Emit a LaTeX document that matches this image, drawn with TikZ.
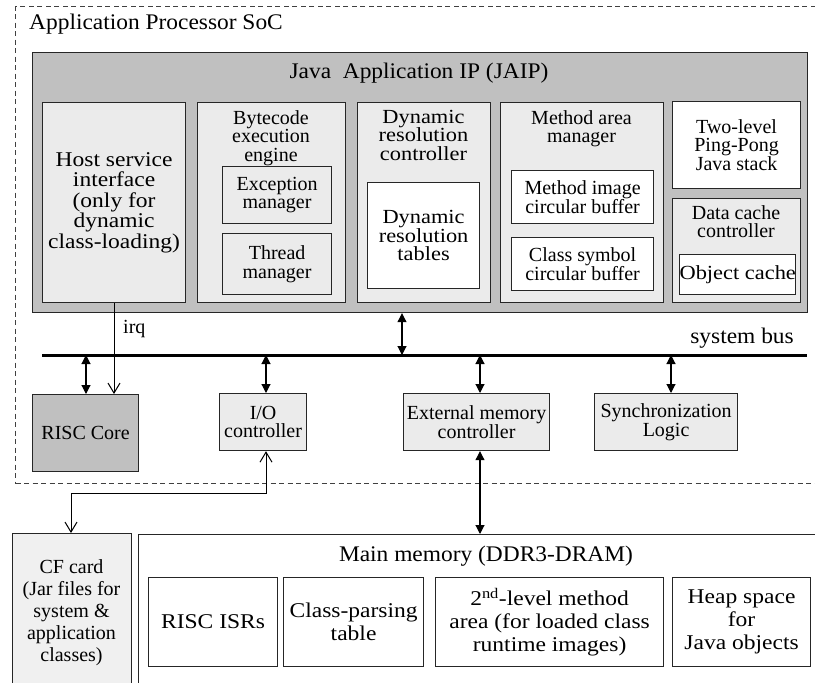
\documentclass[tikz,border=0pt]{standalone}
\usepackage{fontspec}
\setmainfont{Liberation Serif}
\newfontfamily\nf{Liberation Serif}
\newfontfamily\wf{Liberation Serif}[FakeStretch=1.12]
\newfontfamily\tf{Liberation Serif}[FakeStretch=1.05]
\usetikzlibrary{arrows.meta}
\definecolor{jaipgray}{HTML}{C0C0C0}
\definecolor{lightg}{HTML}{EBEBEB}
\definecolor{cfg}{HTML}{F0F0F0}
\tikzset{
  blk/.style={draw=black!85, line width=1.2pt, anchor=north west, inner sep=0pt, align=center},
  nt/.style={font=\nf\fontsize{20}{18.5}\selectfont, align=center, inner sep=0pt},
  wt/.style={font=\wf\fontsize{21}{20.5}\selectfont, align=center, inner sep=0pt},
  mt/.style={font=\wf\fontsize{21}{23}\selectfont, align=center, inner sep=0pt},
  tt/.style={font=\tf\fontsize{22.3}{24}\selectfont, inner sep=0pt},
  biarr/.style={{Triangle[length=9pt,width=9pt]}-{Triangle[length=9pt,width=9pt]}, line width=1.1pt},
  opentip/.style={-{Straight Barb[length=10pt,width=12pt]}, line width=1pt},
  openboth/.style={{Straight Barb[length=10pt,width=12pt]}-{Straight Barb[length=10pt,width=12pt]}, line width=1pt},
}
\begin{document}
\begin{tikzpicture}[x=1pt,y=-1pt]
\useasboundingbox (0,0) rectangle (815,683);
\fill[white] (0,0) rectangle (815,683);
% SoC boundary
\node[blk, draw=black!75, line width=1pt, dash pattern=on 5pt off 3.5pt, minimum width=850pt, minimum height=477pt] (soc) at (15,6) {};
\node[tt, anchor=base west] (soct) at (29,29) {Application Processor SoC};
% JAIP
\node[blk, fill=jaipgray, minimum width=775pt, minimum height=260pt] (jaip) at (32,52) {};
\node[tt, anchor=base] (jaipt) at (419,78) {Java\ \ Application IP (JAIP)};
% Host service
\node[blk, fill=lightg, minimum width=143pt, minimum height=200pt, wt] (host) at (42,102) {Host service\\interface\\(only for\\dynamic\\class-loading)};
% Bytecode engine
\node[blk, fill=lightg, minimum width=148pt, minimum height=200pt] (bee) at (197,102) {};
\node[nt, anchor=north] (beet) at (271,110) {Bytecode\\execution\\engine};
\node[blk, fill=lightg, minimum width=109pt, minimum height=57pt, nt] (exc) at (222,166) {Exception\\manager};
\node[blk, fill=lightg, minimum width=109pt, minimum height=61pt, nt] (thr) at (222,233) {Thread\\manager};
% Dynamic resolution controller
\node[blk, fill=lightg, minimum width=133pt, minimum height=200pt] (drc) at (357,102) {};
\node[wt, font=\wf\fontsize{20}{18.5}\selectfont, anchor=north] (drct) at (423.5,110) {Dynamic\\resolution\\controller};
\node[blk, fill=white, minimum width=112pt, minimum height=106pt, wt, font=\wf\fontsize{20}{18.5}\selectfont] (drt) at (367,182) {Dynamic\\resolution\\tables};
% Method area manager
\node[blk, fill=lightg, minimum width=163pt, minimum height=200pt] (mam) at (500,102) {};
\node[nt, anchor=north] (mamt) at (581.5,110) {Method area\\manager};
\node[blk, fill=white, minimum width=142pt, minimum height=53pt, nt] (mic) at (511,170) {Method image\\circular buffer};
\node[blk, fill=white, minimum width=142pt, minimum height=53pt, nt] (csc) at (511,237) {Class symbol\\circular buffer};
% Java stack and data cache
\node[blk, fill=white, minimum width=128pt, minimum height=87pt, nt] (stk) at (672,101) {Two-level\\Ping-Pong\\Java stack};
\node[blk, fill=lightg, minimum width=128pt, minimum height=104pt] (dcc) at (672,198) {};
\node[nt, anchor=north] (dcct) at (736,205) {Data cache\\controller};
\node[blk, fill=white, minimum width=115pt, minimum height=40pt, wt, font=\wf\fontsize{20}{19}\selectfont] (obj) at (679,254) {Object cache};
% System bus
\coordinate (busL) at (42,355);
\coordinate (busR) at (807,355);
\draw[line width=3pt] (busL) -- (busR);
\node[tt, anchor=base east] (bust) at (794,343) {system bus};
% Peripherals
\node[blk, fill=jaipgray, minimum width=106pt, minimum height=77pt, nt] (risc) at (32,394) {RISC Core};
\node[blk, fill=lightg, minimum width=87pt, minimum height=57pt, nt] (io) at (219,393) {I/O\\controller};
\node[blk, fill=lightg, minimum width=146pt, minimum height=57pt, nt] (emc) at (403,393) {External memory\\controller};
\node[blk, fill=lightg, minimum width=143pt, minimum height=57pt, nt] (syn) at (594,393) {Synchronization\\Logic};
% Bus taps
\coordinate (tj) at (402,355);
\coordinate (t1) at (86,355);
\coordinate (t2) at (266,355);
\coordinate (t3) at (480,355);
\coordinate (t4) at (671,355);
\draw[biarr] (tj |- jaip.south) -- (tj);
\draw[biarr] (t1) -- (t1 |- risc.north);
\draw[biarr] (t2) -- (t2 |- io.north);
\draw[biarr] (t3) -- (t3 |- emc.north);
\draw[biarr] (t4) -- (t4 |- syn.north);
% irq
\coordinate (irqx) at (114,0);
\draw[opentip] (host.south -| irqx) -- (risc.north -| irqx);
\node[nt, anchor=base west] (irqt) at (123,333) {irq};
% External storage
\node[blk, fill=cfg, minimum width=119pt, minimum height=200pt] (cf) at (12,533) {};
\node[nt, font=\nf\fontsize{20}{22}\selectfont] (cft) at (71.5,613) {CF card\\(Jar files for\\system \&\\application\\classes)};
\node[blk, fill=white, minimum width=750pt, minimum height=200pt] (mm) at (138,534) {};
\node[tt, anchor=base] (mmt) at (486,561) {Main memory (DDR3-DRAM)};
\node[blk, fill=white, minimum width=129pt, minimum height=89pt, mt] (isr) at (148,577) {RISC ISRs};
\node[blk, fill=white, minimum width=140pt, minimum height=89pt, mt] (cpt) at (283,577) {Class-parsing\\table};
\node[blk, fill=white, minimum width=228pt, minimum height=89pt, mt] (sma) at (435,577) {2\textsuperscript{nd}-level method\\area (for loaded class\\runtime images)};
\node[blk, fill=white, minimum width=138pt, minimum height=89pt, mt] (hsp) at (672,577) {Heap space\\for\\Java objects};
% Memory and CF links
\draw[biarr] (emc.south -| t3) -- (mm.north -| t3);
\coordinate (cfj) at (71,493);
\draw[openboth] (io.south -| t2) |- (cfj) -- (cf.north -| cfj);
\end{tikzpicture}
\end{document}
